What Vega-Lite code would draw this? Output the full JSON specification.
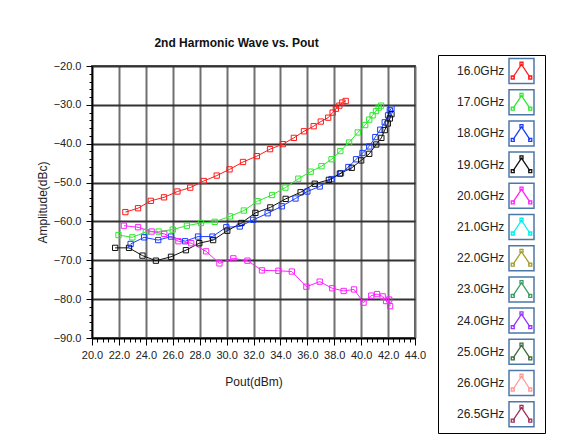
{
  "$schema": "https://vega.github.io/schema/vega-lite/v6.json",
  "width": 323,
  "height": 272,
  "autosize": {"type": "none"},
  "padding": {"left": 92, "top": 66, "right": 154, "bottom": 107},
  "background": "white",
  "title": {"text": "2nd Harmonic Wave vs. Pout", "font": "Liberation Sans", "fontSize": 12, "fontWeight": "bold", "color": "#111", "anchor": "middle", "offset": 5, "dx": -17},
  "config": {"view": {"stroke": "#555", "strokeWidth": 2}, "font": "Liberation Sans"},
  "datasets": {
    "curves": [
      {"Freq":"16.0GHz","Pout":22.48,"Amp":-57.6},{"Freq":"16.0GHz","Pout":23.42,"Amp":-56.6},{"Freq":"16.0GHz","Pout":24.37,"Amp":-54.7},{"Freq":"16.0GHz","Pout":25.35,"Amp":-53.8},{"Freq":"16.0GHz","Pout":26.35,"Amp":-52.3},{"Freq":"16.0GHz","Pout":27.3,"Amp":-51.3},{"Freq":"16.0GHz","Pout":28.3,"Amp":-49.6},{"Freq":"16.0GHz","Pout":29.27,"Amp":-48.2},{"Freq":"16.0GHz","Pout":30.22,"Amp":-46.6},{"Freq":"16.0GHz","Pout":31.22,"Amp":-44.7},{"Freq":"16.0GHz","Pout":32.25,"Amp":-43.2},{"Freq":"16.0GHz","Pout":33.23,"Amp":-41.4},{"Freq":"16.0GHz","Pout":34.18,"Amp":-40.1},{"Freq":"16.0GHz","Pout":35.0,"Amp":-38.5},{"Freq":"16.0GHz","Pout":35.75,"Amp":-36.8},{"Freq":"16.0GHz","Pout":36.47,"Amp":-35.5},{"Freq":"16.0GHz","Pout":37.0,"Amp":-34.3},{"Freq":"16.0GHz","Pout":37.55,"Amp":-33.3},{"Freq":"16.0GHz","Pout":37.88,"Amp":-32.0},{"Freq":"16.0GHz","Pout":38.12,"Amp":-31.0},{"Freq":"16.0GHz","Pout":38.38,"Amp":-30.2},{"Freq":"16.0GHz","Pout":38.6,"Amp":-29.4},{"Freq":"16.0GHz","Pout":38.85,"Amp":-29.0},
      {"Freq":"17.0GHz","Pout":21.97,"Amp":-63.5},{"Freq":"17.0GHz","Pout":23.0,"Amp":-64.1},{"Freq":"17.0GHz","Pout":24.0,"Amp":-62.7},{"Freq":"17.0GHz","Pout":24.95,"Amp":-62.6},{"Freq":"17.0GHz","Pout":26.0,"Amp":-62.1},{"Freq":"17.0GHz","Pout":27.05,"Amp":-61.1},{"Freq":"17.0GHz","Pout":28.1,"Amp":-60.4},{"Freq":"17.0GHz","Pout":29.12,"Amp":-60.1},{"Freq":"17.0GHz","Pout":30.25,"Amp":-58.7},{"Freq":"17.0GHz","Pout":31.28,"Amp":-57.2},{"Freq":"17.0GHz","Pout":32.3,"Amp":-54.8},{"Freq":"17.0GHz","Pout":33.38,"Amp":-53.2},{"Freq":"17.0GHz","Pout":34.37,"Amp":-51.3},{"Freq":"17.0GHz","Pout":35.33,"Amp":-49.0},{"Freq":"17.0GHz","Pout":36.25,"Amp":-47.2},{"Freq":"17.0GHz","Pout":37.05,"Amp":-45.8},{"Freq":"17.0GHz","Pout":37.8,"Amp":-44.0},{"Freq":"17.0GHz","Pout":38.45,"Amp":-41.9},{"Freq":"17.0GHz","Pout":39.1,"Amp":-39.7},{"Freq":"17.0GHz","Pout":39.75,"Amp":-37.1},{"Freq":"17.0GHz","Pout":40.3,"Amp":-35.2},{"Freq":"17.0GHz","Pout":40.6,"Amp":-33.8},{"Freq":"17.0GHz","Pout":40.85,"Amp":-32.7},{"Freq":"17.0GHz","Pout":41.1,"Amp":-31.6},{"Freq":"17.0GHz","Pout":41.3,"Amp":-30.7},{"Freq":"17.0GHz","Pout":41.48,"Amp":-30.2},
      {"Freq":"18.0GHz","Pout":22.87,"Amp":-65.8},{"Freq":"18.0GHz","Pout":23.87,"Amp":-64.1},{"Freq":"18.0GHz","Pout":24.92,"Amp":-64.8},{"Freq":"18.0GHz","Pout":25.87,"Amp":-63.9},{"Freq":"18.0GHz","Pout":26.92,"Amp":-65.1},{"Freq":"18.0GHz","Pout":27.88,"Amp":-63.9},{"Freq":"18.0GHz","Pout":28.95,"Amp":-63.9},{"Freq":"18.0GHz","Pout":29.98,"Amp":-61.5},{"Freq":"18.0GHz","Pout":30.98,"Amp":-61.3},{"Freq":"18.0GHz","Pout":31.98,"Amp":-59.6},{"Freq":"18.0GHz","Pout":33.05,"Amp":-57.9},{"Freq":"18.0GHz","Pout":34.1,"Amp":-56.1},{"Freq":"18.0GHz","Pout":35.12,"Amp":-54.1},{"Freq":"18.0GHz","Pout":36.0,"Amp":-52.3},{"Freq":"18.0GHz","Pout":36.92,"Amp":-51.0},{"Freq":"18.0GHz","Pout":37.8,"Amp":-49.1},{"Freq":"18.0GHz","Pout":38.5,"Amp":-47.6},{"Freq":"18.0GHz","Pout":39.05,"Amp":-46.0},{"Freq":"18.0GHz","Pout":39.62,"Amp":-44.0},{"Freq":"18.0GHz","Pout":40.1,"Amp":-42.4},{"Freq":"18.0GHz","Pout":40.6,"Amp":-40.7},{"Freq":"18.0GHz","Pout":41.05,"Amp":-38.3},{"Freq":"18.0GHz","Pout":41.42,"Amp":-36.4},{"Freq":"18.0GHz","Pout":41.75,"Amp":-34.5},{"Freq":"18.0GHz","Pout":42.0,"Amp":-32.7},{"Freq":"18.0GHz","Pout":42.13,"Amp":-31.4},{"Freq":"18.0GHz","Pout":42.25,"Amp":-30.9},
      {"Freq":"19.0GHz","Pout":21.72,"Amp":-66.8},{"Freq":"19.0GHz","Pout":22.75,"Amp":-66.8},{"Freq":"19.0GHz","Pout":23.75,"Amp":-68.8},{"Freq":"19.0GHz","Pout":24.75,"Amp":-70.1},{"Freq":"19.0GHz","Pout":25.87,"Amp":-69.1},{"Freq":"19.0GHz","Pout":26.98,"Amp":-67.4},{"Freq":"19.0GHz","Pout":27.97,"Amp":-65.6},{"Freq":"19.0GHz","Pout":29.0,"Amp":-64.8},{"Freq":"19.0GHz","Pout":30.05,"Amp":-62.4},{"Freq":"19.0GHz","Pout":31.1,"Amp":-60.4},{"Freq":"19.0GHz","Pout":32.14,"Amp":-57.8},{"Freq":"19.0GHz","Pout":33.25,"Amp":-56.4},{"Freq":"19.0GHz","Pout":34.39,"Amp":-54.2},{"Freq":"19.0GHz","Pout":35.5,"Amp":-52.5},{"Freq":"19.0GHz","Pout":36.55,"Amp":-50.3},{"Freq":"19.0GHz","Pout":37.6,"Amp":-49.3},{"Freq":"19.0GHz","Pout":38.42,"Amp":-47.7},{"Freq":"19.0GHz","Pout":39.3,"Amp":-46.2},{"Freq":"19.0GHz","Pout":40.0,"Amp":-44.3},{"Freq":"19.0GHz","Pout":40.6,"Amp":-42.6},{"Freq":"19.0GHz","Pout":41.12,"Amp":-40.2},{"Freq":"19.0GHz","Pout":41.5,"Amp":-38.5},{"Freq":"19.0GHz","Pout":41.75,"Amp":-36.5},{"Freq":"19.0GHz","Pout":41.98,"Amp":-34.8},{"Freq":"19.0GHz","Pout":42.13,"Amp":-33.5},{"Freq":"19.0GHz","Pout":42.25,"Amp":-32.4},
      {"Freq":"20.0GHz","Pout":22.37,"Amp":-61.1},{"Freq":"20.0GHz","Pout":23.42,"Amp":-61.5},{"Freq":"20.0GHz","Pout":24.43,"Amp":-62.6},{"Freq":"20.0GHz","Pout":25.37,"Amp":-63.2},{"Freq":"20.0GHz","Pout":26.42,"Amp":-65.1},{"Freq":"20.0GHz","Pout":27.37,"Amp":-65.6},{"Freq":"20.0GHz","Pout":28.48,"Amp":-67.7},{"Freq":"20.0GHz","Pout":29.47,"Amp":-70.8},{"Freq":"20.0GHz","Pout":30.5,"Amp":-69.5},{"Freq":"20.0GHz","Pout":31.55,"Amp":-70.1},{"Freq":"20.0GHz","Pout":32.63,"Amp":-72.6},{"Freq":"20.0GHz","Pout":33.85,"Amp":-72.7},{"Freq":"20.0GHz","Pout":34.85,"Amp":-72.9},{"Freq":"20.0GHz","Pout":35.93,"Amp":-76.8},{"Freq":"20.0GHz","Pout":36.92,"Amp":-75.5},{"Freq":"20.0GHz","Pout":37.85,"Amp":-77.2},{"Freq":"20.0GHz","Pout":38.7,"Amp":-77.9},{"Freq":"20.0GHz","Pout":39.47,"Amp":-77.5},{"Freq":"20.0GHz","Pout":40.18,"Amp":-80.9},{"Freq":"20.0GHz","Pout":40.75,"Amp":-79.1},{"Freq":"20.0GHz","Pout":41.18,"Amp":-78.7},{"Freq":"20.0GHz","Pout":41.6,"Amp":-79.3},{"Freq":"20.0GHz","Pout":41.85,"Amp":-80.5},{"Freq":"20.0GHz","Pout":42.08,"Amp":-80.1},{"Freq":"20.0GHz","Pout":42.15,"Amp":-81.8}
    ],
    "bands": [
      {"Band":"16.0GHz"},{"Band":"17.0GHz"},{"Band":"18.0GHz"},{"Band":"19.0GHz"},{"Band":"20.0GHz"},{"Band":"21.0GHz"},{"Band":"22.0GHz"},{"Band":"23.0GHz"},{"Band":"24.0GHz"},{"Band":"25.0GHz"},{"Band":"26.0GHz"},{"Band":"26.5GHz"}
    ]
  },
  "layer": [
    {
      "data": {"name": "curves"},
      "mark": {"type": "line", "strokeWidth": 1, "point": {"shape": "square", "filled": false, "size": 28, "strokeWidth": 1}},
      "encoding": {
        "x": {"field": "Pout", "type": "quantitative",
          "scale": {"domain": [20, 44], "nice": false, "zero": false},
          "axis": {"title": "Pout(dBm)", "values": [20,22,24,26,28,30,32,34,36,38,40,42,44], "format": ".1f", "labelFlush": false, "labelOverlap": false,
            "grid": true, "gridColor": "#707070", "gridWidth": 2, "domainColor": "#000", "domainWidth": 1.5, "tickColor": "#000", "tickSize": 7, "tickWidth": 1,
            "labelPadding": 4, "labelFontSize": 11, "labelColor": "#222", "titleFontSize": 12, "titleFontWeight": "normal", "titleColor": "#222", "titlePadding": 16}},
        "y": {"field": "Amp", "type": "quantitative",
          "scale": {"domain": [-90, -20], "nice": false, "zero": false},
          "axis": {"title": "Amplitude(dBc)", "values": [-90,-80,-70,-60,-50,-40,-30,-20], "format": ".1f", "labelFlush": false, "labelOverlap": false,
            "grid": true, "gridColor": "#333", "gridWidth": 2, "domainColor": "#000", "domainWidth": 1.5, "tickColor": "#000", "tickSize": 6, "tickWidth": 1,
            "labelPadding": 5, "labelFontSize": 11, "labelColor": "#222", "titleFontSize": 12, "titleFontWeight": "normal", "titleColor": "#222", "titlePadding": 4}},
        "color": {"field": "Freq", "type": "nominal",
          "scale": {"domain": ["16.0GHz","17.0GHz","18.0GHz","19.0GHz","20.0GHz","21.0GHz","22.0GHz","23.0GHz","24.0GHz","25.0GHz","26.0GHz","26.5GHz"],
                    "range": ["#ff1a1a","#2ee82e","#1a3dff","#111111","#ff22ff","#00f0f0","#a3a02c","#3a9e62","#9933ff","#3b6e3b","#ff9a9a","#9e3060"]},
          "legend": {"title": null, "orient": "none", "legendX": 346, "legendY": -11, "direction": "vertical", "padding": 2.5,
            "symbolType": "M-0.68,0.5L0,-0.52L0.68,0.5M-0.82,0.4h0.24v0.24h-0.24zM-0.12,-0.7h0.24v0.24h-0.24zM0.58,0.4h0.24v0.24h-0.24zM0,-1M0,1",
            "symbolSize": 625, "symbolStrokeWidth": 1.3, "symbolOffset": 67.5, "labelOffset": -78, "rowPadding": 0.2,
            "labelFontSize": 12, "labelExpr": "''", "labelLimit": 0,
            "encode": {"symbols": {"update": {"fill": {"value": "transparent"}, "strokeWidth": {"value": 1.3}}}}}}
      }
    },
    {
      "data": {"name": "curves"},
      "mark": {"type": "point", "opacity": 0},
      "encoding": {
        "x": {"field": "Pout", "type": "quantitative",
          "axis": {"orient": "bottom", "title": null, "labels": false, "domain": false, "grid": false, "tickColor": "#000", "tickSize": 4, "tickWidth": 1,
            "values": [20.4,20.8,21.2,21.6,22.4,22.8,23.2,23.6,24.4,24.8,25.2,25.6,26.4,26.8,27.2,27.6,28.4,28.8,29.2,29.6,30.4,30.8,31.2,31.6,32.4,32.8,33.2,33.6,34.4,34.8,35.2,35.6,36.4,36.8,37.2,37.6,38.4,38.8,39.2,39.6,40.4,40.8,41.2,41.6,42.4,42.8,43.2,43.6]}},
        "y": {"field": "Amp", "type": "quantitative",
          "axis": {"orient": "left", "title": null, "labels": false, "domain": false, "grid": false, "tickColor": "#000", "tickSize": 3, "tickWidth": 1,
            "values": [-88,-86,-84,-82,-78,-76,-74,-72,-68,-66,-64,-62,-58,-56,-54,-52,-48,-46,-44,-42,-38,-36,-34,-32,-28,-26,-24,-22]}}
      }
    },
    {
      "data": {"name": "bands"},
      "mark": {"type": "point", "opacity": 0},
      "encoding": {
        "shape": {"field": "Band", "type": "nominal", "scale": {"range": ["M-1,-1h2v2h-2zM1.4,0"]},
          "legend": {"title": null, "orient": "none", "legendX": 346, "legendY": -11, "direction": "vertical", "padding": 2.5,
            "strokeColor": "#000",
            "symbolSize": 625, "symbolOffset": 67.5, "labelOffset": -78, "rowPadding": 0.2,
            "labelFontSize": 12, "labelColor": "#222", "labelFont": "Liberation Sans", "labelLimit": 0,
            "encode": {
              "symbols": {"update": {"stroke": {"value": "#000"}, "fill": {"value": "transparent"}, "strokeWidth": {"value": 1.3}, "opacity": {"value": 1}}},
              "legend": {"update": {"strokeWidth": {"value": 2.5}}}}}}
      }
    }
  ],
  "resolve": {"axis": {"x": "independent", "y": "independent"}}
}
